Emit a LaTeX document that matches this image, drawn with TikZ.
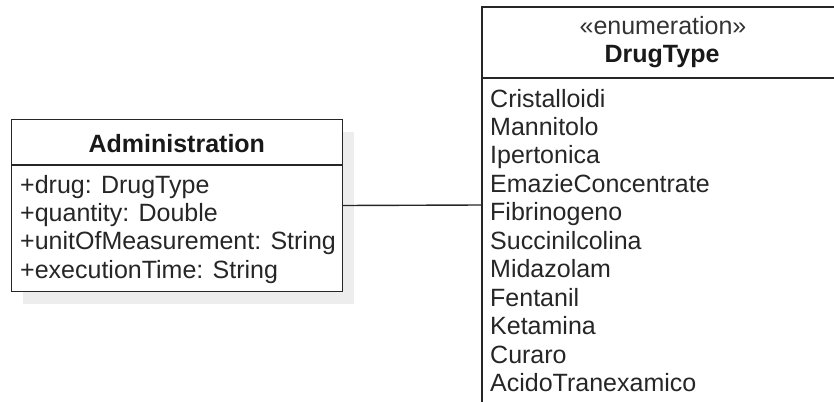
\documentclass[tikz,border=0pt]{standalone}
\usepackage{fontspec}
\setmainfont{Liberation Sans}
\begin{document}
\begin{tikzpicture}[x=1pt,y=-1pt,
  umlbox/.style={draw=black!85, line width=1.4pt, fill=white, rectangle, inner sep=0pt},
  shadowbox/.style={fill=black!7, draw=none, rectangle, inner sep=0pt},
  sepline/.style={draw=black!85, line width=1.4pt},
  assoc/.style={draw=black!85, line width=1.4pt},
  attr/.style={anchor=base west, inner sep=0pt, text=black!85, font=\fontsize{25}{28}\selectfont},
  title/.style={anchor=base, inner sep=0pt, text=black!90, font=\fontsize{25}{28}\selectfont\bfseries},
  stereo/.style={anchor=base, inner sep=0pt, text=black!80, font=\fontsize{25}{28}\selectfont}]
\useasboundingbox (0,0) rectangle (834,401);
\clip (0,0) rectangle (834,401);

% Administration class: shadow, frame, compartments
\node[shadowbox, minimum width=331pt, minimum height=172pt] (adminshadow) at (188.8,217.5) {};
\node[umlbox, minimum width=331pt, minimum height=172pt] (admin) at (176.8,205.5) {};
\draw[sepline] (admin.west |- 0,165) coordinate (asl) -- (admin.east |- 0,165) coordinate (asr);
\node[title] (admintitle) at (176.8,152) {Administration};
\node[attr] (a1) at (20,193) {+drug: DrugType};
\node[attr] (a2) at (20,221.3) {+quantity: Double};
\node[attr] (a3) at (20,249.6) {+unitOfMeasurement: String};
\node[attr] (a4) at (20,278) {+executionTime: String};

% DrugType enumeration
\node[umlbox, minimum width=360pt, minimum height=396pt] (drug) at (662,205) {};
\draw[sepline] (drug.west |- 0,78) coordinate (dsl) -- (drug.east |- 0,78) coordinate (dsr);
\node[stereo] (drugstereo) at (663,35) {«enumeration»};
\node[title] (drugtitle) at (662,63) {DrugType};
\foreach \lit [count=\i from 0] in {Cristalloidi,Mannitolo,Ipertonica,EmazieConcentrate,Fibrinogeno,Succinilcolina,Midazolam,Fentanil,Ketamina,Curaro,AcidoTranexamico}
  \node[attr] (lit\i) at (490,107+28.45*\i) {\lit};

% association
\draw[assoc] (admin.east) -- (drug.west);
\end{tikzpicture}
\end{document}
